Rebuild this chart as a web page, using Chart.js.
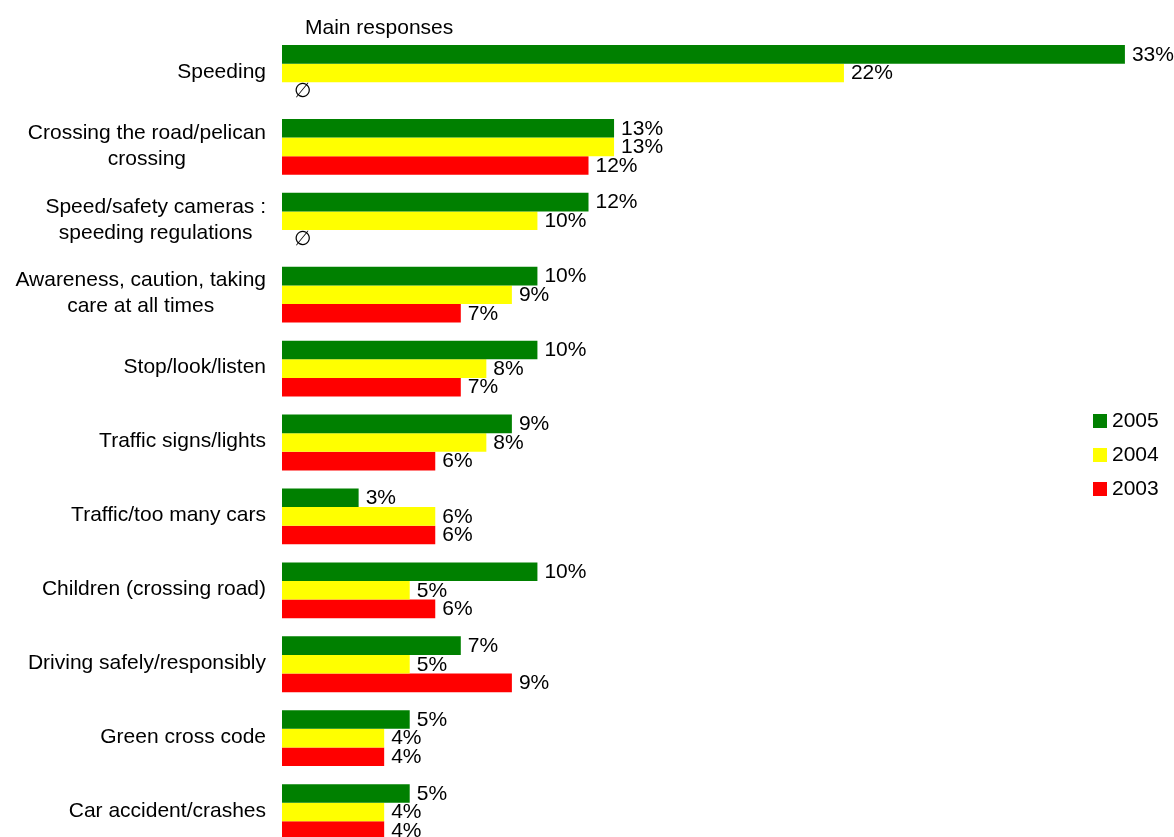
<!DOCTYPE html>
<html>
<head>
<meta charset="utf-8">
<script src="https://cdn.jsdelivr.net/npm/chart.js@4/dist/chart.umd.min.js"></script>
<style>
  html, body { margin: 0; padding: 0; background: #fff; overflow: hidden; }
  #wrap { width: 1180px; height: 850px; }
</style>
</head>
<body>
<div id="wrap"><canvas id="c" width="1180" height="850"></canvas></div>
<script>
// ---- data ----
const categories = [
  ["Speeding"],
  ["Crossing the road/pelican", "crossing"],
  ["Speed/safety cameras :", "speeding regulations"],
  ["Awareness, caution, taking", "care at all times"],
  ["Stop/look/listen"],
  ["Traffic signs/lights"],
  ["Traffic/too many cars"],
  ["Children (crossing road)"],
  ["Driving safely/responsibly"],
  ["Green cross code"],
  ["Car accident/crashes"]
];
const seriesNames = ["2005", "2004", "2003"];
const values2005 = [33, 13, 12, 10, 10, 9, 3, 10, 7, 5, 5];
const values2004 = [22, 13, 10, 9, 8, 8, 6, 5, 5, 4, 4];
const values2003 = [null, 12, null, 7, 7, 6, 6, 6, 9, 4, 4];
const chartTitle = "Main responses";
const nullMark = "\u2205";

const colors = ["#008000", "#FFFF00", "#FF0000"];
const FONT = "'Liberation Sans', Arial, sans-serif";

const overlay = {
  id: 'overlay',
  afterDatasetsDraw(chart) {
    const ctx = chart.ctx;
    const ca = chart.chartArea;
    const yScale = chart.scales.y;
    ctx.save();
    ctx.fillStyle = '#000';

    // title
    ctx.font = '21px ' + FONT;
    ctx.textAlign = 'left';
    ctx.textBaseline = 'alphabetic';
    ctx.fillText(chartTitle, ca.left + 23, 33.5);

    // category labels (block right-aligned, lines centered)
    ctx.textAlign = 'center';
    ctx.textBaseline = 'middle';
    categories.forEach((lines, i) => {
      const y = yScale.getPixelForValue(i);
      const maxW = Math.max(...lines.map(l => ctx.measureText(l).width));
      const cx = ca.left - 16 - maxW / 2;
      const n = lines.length;
      lines.forEach((l, j) => {
        ctx.fillText(l, cx, y - 1 + (j - (n - 1) / 2) * 26);
      });
    });

    // data labels
    ctx.textAlign = 'left';
    chart.data.datasets.forEach((ds, di) => {
      const meta = chart.getDatasetMeta(di);
      meta.data.forEach((el, i) => {
        const v = ds.data[i];
        let y = el.y;
        if (!isFinite(y)) {
          const ref = chart.getDatasetMeta(0).data[i];
          y = ref.y + (el.height || ref.height) * di;
        }
        if (v === null || v === undefined) {
          ctx.font = '20px "DejaVu Sans", ' + FONT;
          ctx.fillText(nullMark, ca.left + 12, y);
          ctx.font = '21px ' + FONT;
        } else {
          ctx.font = '21px ' + FONT;
          const label = v + '%';
          const w = ctx.measureText(label).width;
          let x = el.x + 7;
          if (x + w > 1174) x = 1174 - w;
          ctx.fillText(label, x, y + 0.5);
        }
      });
    });

    // legend
    ctx.font = '21px ' + FONT;
    ctx.textAlign = 'left';
    ctx.textBaseline = 'middle';
    seriesNames.forEach((name, i) => {
      const cy = 421 + i * 34;
      ctx.fillStyle = colors[i];
      ctx.fillRect(1093, cy - 7, 14, 14);
      ctx.fillStyle = '#000';
      ctx.fillText(name, 1112, cy + 0.5);
    });
    ctx.restore();
  }
};

new Chart(document.getElementById('c'), {
  type: 'bar',
  data: {
    labels: categories,
    datasets: [
      { label: seriesNames[0], data: values2005, backgroundColor: colors[0] },
      { label: seriesNames[1], data: values2004, backgroundColor: colors[1] },
      { label: seriesNames[2], data: values2003, backgroundColor: colors[2] }
    ]
  },
  options: {
    indexAxis: 'y',
    responsive: false,
    animation: false,
    devicePixelRatio: 1,
    layout: { padding: { left: 282, top: 36, right: 4, bottom: 1 } },
    datasets: { bar: { categoryPercentage: 0.755, barPercentage: 1.0, borderWidth: 0 } },
    scales: {
      x: { display: false, min: 0, max: 35 },
      y: { display: false }
    },
    plugins: {
      legend: { display: false },
      title: { display: false },
      tooltip: { enabled: false }
    }
  },
  plugins: [overlay]
});
</script>
</body>
</html>
